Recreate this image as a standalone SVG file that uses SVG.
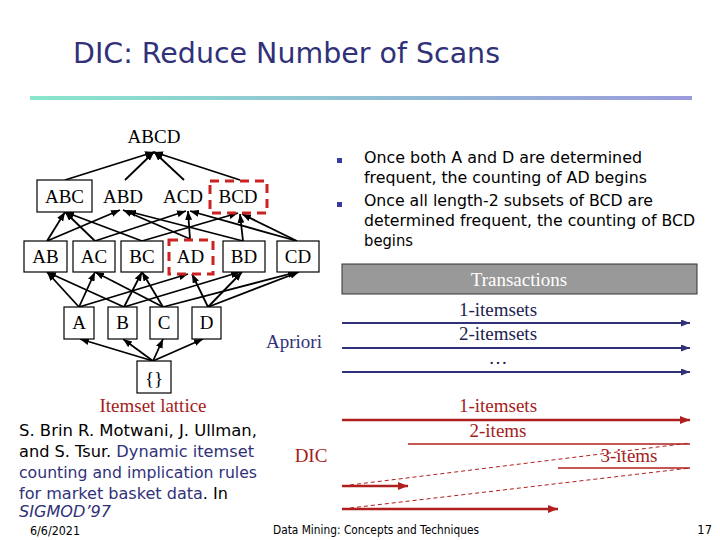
<svg xmlns="http://www.w3.org/2000/svg" width="720" height="540" viewBox="0 0 720 540">
<style>
.serif{font-family:"Liberation Serif","DejaVu Serif",serif;font-size:19px;fill:#000}
.sans{font-family:"DejaVu Sans","Liberation Sans",sans-serif}
.node{fill:#fff;stroke:#000;stroke-width:1.2}
.sel{fill:none;stroke:#cc2222;stroke-width:3;stroke-dasharray:9,6}
.edge{stroke:#000;stroke-width:1.8;fill:none;marker-end:url(#ab)}
.navy{fill:#31317a}
.dk{fill:#22224f}
.red{fill:#a51c1c}
.ap{stroke:#31317a;stroke-width:2;marker-end:url(#an)}
.dic{stroke:#b01e1e;stroke-width:2.5;marker-end:url(#ar)}
.thin{stroke:#b01e1e;stroke-width:1.4}
.dash{stroke:#b01e1e;stroke-width:1;stroke-dasharray:4,3;fill:none}
</style>
<defs>
<linearGradient id="g" x1="0" x2="1" y1="0" y2="0">
<stop offset="0" stop-color="#88e6cc"/>
<stop offset="1" stop-color="#9b9bdc"/>
</linearGradient>
<marker id="ab" markerUnits="userSpaceOnUse" markerWidth="9" markerHeight="7" refX="9" refY="3.5" orient="auto"><path d="M0,0 L9,3.5 L0,7 z" fill="#000"/></marker>
<marker id="an" markerUnits="userSpaceOnUse" markerWidth="9" markerHeight="7" refX="9" refY="3.5" orient="auto"><path d="M0,0 L9,3.5 L0,7 z" fill="#31317a"/></marker>
<marker id="ar" markerUnits="userSpaceOnUse" markerWidth="10" markerHeight="8" refX="10" refY="4" orient="auto"><path d="M0,0 L10,4 L0,8 z" fill="#b01e1e"/></marker>
</defs>
<rect width="720" height="540" fill="#fff"/>
<text x="73" y="63" class="sans navy" font-size="28" textLength="427" lengthAdjust="spacingAndGlyphs">DIC: Reduce Number of Scans</text>
<rect x="30" y="96" width="662" height="4" fill="url(#g)"/>

<g id="connectors">
<line class="edge" x1="65" y1="180" x2="154" y2="152"/>
<line class="edge" x1="125" y1="180" x2="154" y2="152"/>
<line class="edge" x1="184" y1="180" x2="154" y2="152"/>
<line class="edge" x1="240" y1="180" x2="154" y2="152"/>
<line class="edge" x1="47" y1="241" x2="65" y2="212"/>
<line class="edge" x1="47" y1="241" x2="120" y2="210"/>
<line class="edge" x1="95" y1="241" x2="65" y2="212"/>
<line class="edge" x1="95" y1="241" x2="186" y2="211"/>
<line class="edge" x1="142" y1="241" x2="65" y2="212"/>
<line class="edge" x1="142" y1="241" x2="238" y2="213"/>
<line class="edge" x1="190" y1="239" x2="123" y2="210"/>
<line class="edge" x1="190" y1="239" x2="188" y2="211"/>
<line class="edge" x1="243" y1="241" x2="127" y2="211"/>
<line class="edge" x1="243" y1="241" x2="240" y2="214"/>
<line class="edge" x1="297" y1="241" x2="190" y2="211"/>
<line class="edge" x1="297" y1="241" x2="242" y2="214"/>
<line class="edge" x1="79" y1="307" x2="47" y2="272"/>
<line class="edge" x1="79" y1="307" x2="95" y2="272"/>
<line class="edge" x1="79" y1="307" x2="188" y2="274"/>
<line class="edge" x1="124" y1="307" x2="47" y2="272"/>
<line class="edge" x1="124" y1="307" x2="142" y2="272"/>
<line class="edge" x1="124" y1="307" x2="240" y2="272"/>
<line class="edge" x1="163" y1="307" x2="95" y2="272"/>
<line class="edge" x1="163" y1="307" x2="142" y2="272"/>
<line class="edge" x1="163" y1="307" x2="297" y2="272"/>
<line class="edge" x1="208" y1="307" x2="192" y2="274"/>
<line class="edge" x1="208" y1="307" x2="242" y2="272"/>
<line class="edge" x1="208" y1="307" x2="299" y2="272"/>
<line class="edge" x1="153" y1="361" x2="80" y2="339"/>
<line class="edge" x1="153" y1="361" x2="123" y2="339"/>
<line class="edge" x1="153" y1="361" x2="163" y2="339"/>
<line class="edge" x1="153" y1="361" x2="203" y2="339"/>
</g>

<g id="ABCD"><text x="154" y="143" class="serif" text-anchor="middle">ABCD</text></g>
<g id="ABC"><rect class="node" x="37" y="180" width="55" height="32"/><text x="64.5" y="203" class="serif" text-anchor="middle">ABC</text></g>
<g id="ABD"><text x="123" y="203" class="serif" text-anchor="middle">ABD</text></g>
<g id="ACD"><text x="183" y="203" class="serif" text-anchor="middle">ACD</text></g>
<g id="BCD"><text x="238" y="203" class="serif" text-anchor="middle">BCD</text><rect class="sel" x="210" y="181" width="57" height="32"/></g>

<g id="AB"><rect class="node" x="24" y="241" width="43" height="31"/><text x="45.5" y="263" class="serif" text-anchor="middle">AB</text></g>
<g id="AC"><rect class="node" x="73" y="241" width="42" height="31"/><text x="94" y="263" class="serif" text-anchor="middle">AC</text></g>
<g id="BC"><rect class="node" x="121" y="241" width="42" height="31"/><text x="142" y="263" class="serif" text-anchor="middle">BC</text></g>
<g id="AD"><text x="190.5" y="263" class="serif" text-anchor="middle">AD</text><rect class="sel" x="169" y="240" width="44" height="34"/></g>
<g id="BD"><rect class="node" x="223" y="241" width="42" height="31"/><text x="244" y="263" class="serif" text-anchor="middle">BD</text></g>
<g id="CD"><rect class="node" x="277" y="241" width="42" height="31"/><text x="298" y="263" class="serif" text-anchor="middle">CD</text></g>

<g id="A"><rect class="node" x="64" y="307" width="30" height="32"/><text x="79" y="329" class="serif" text-anchor="middle">A</text></g>
<g id="B"><rect class="node" x="108" y="307" width="29" height="32"/><text x="122.5" y="329" class="serif" text-anchor="middle">B</text></g>
<g id="C"><rect class="node" x="150" y="307" width="28" height="32"/><text x="164" y="329" class="serif" text-anchor="middle">C</text></g>
<g id="D"><rect class="node" x="192" y="307" width="29" height="32"/><text x="206.5" y="329" class="serif" text-anchor="middle">D</text></g>
<g id="empty"><rect class="node" x="137" y="361" width="34" height="32"/><text x="154" y="385" class="serif" text-anchor="middle">{}</text></g>

<text x="153" y="412" class="serif red" text-anchor="middle" font-size="18">Itemset lattice</text>

<g id="bullets" class="sans" font-size="16">
<rect x="337" y="158" width="5" height="5" fill="#3a3aa0"/>
<rect x="337" y="202" width="5" height="5" fill="#3a3aa0"/>
<text x="364" y="163" textLength="278" lengthAdjust="spacingAndGlyphs">Once both A and D are determined</text>
<text x="364" y="183" textLength="283" lengthAdjust="spacingAndGlyphs">frequent, the counting of AD begins</text>
<text x="364" y="206" textLength="289" lengthAdjust="spacingAndGlyphs">Once all length-2 subsets of BCD are</text>
<text x="364" y="226" textLength="331" lengthAdjust="spacingAndGlyphs">determined frequent, the counting of BCD</text>
<text x="364" y="246" textLength="49" lengthAdjust="spacingAndGlyphs">begins</text>
</g>

<g id="transactions">
<rect x="342" y="264" width="355" height="30" fill="#999999" stroke="#333" stroke-width="1"/>
<text x="519" y="286" class="serif" style="fill:#fff" text-anchor="middle" font-size="18">Transactions</text>
</g>

<g id="apriori">
<text x="294" y="348" class="serif navy" text-anchor="middle">Apriori</text>
<text x="498" y="316" class="serif dk" text-anchor="middle">1-itemsets</text>
<line class="ap" x1="342" y1="323" x2="690" y2="323"/>
<text x="498" y="340" class="serif dk" text-anchor="middle">2-itemsets</text>
<line class="ap" x1="342" y1="348" x2="690" y2="348"/>
<text x="498" y="364" class="serif dk" text-anchor="middle">…</text>
<line class="ap" x1="342" y1="372" x2="690" y2="372"/>
</g>

<g id="dic">
<text x="311" y="462" class="serif red" text-anchor="middle">DIC</text>
<text x="498" y="412" class="serif red" text-anchor="middle">1-itemsets</text>
<line class="dic" x1="342" y1="420" x2="690" y2="420"/>
<text x="498" y="437" class="serif red" text-anchor="middle">2-items</text>
<line class="thin" x1="408" y1="444" x2="690" y2="444"/>
<line class="dash" x1="350" y1="485" x2="690" y2="443"/>
<text x="629" y="462" class="serif red" text-anchor="middle">3-items</text>
<line class="thin" x1="558" y1="468" x2="690" y2="468"/>
<line class="dash" x1="350" y1="508" x2="690" y2="468"/>
<line class="dic" x1="342" y1="486" x2="408" y2="486"/>
<line class="dic" x1="342" y1="509" x2="558" y2="509"/>
</g>

<g id="citation" class="sans" font-size="16">
<text x="19" y="436" textLength="238" lengthAdjust="spacingAndGlyphs">S. Brin R. Motwani, J. Ullman,</text>
<text x="19" y="457" textLength="235" lengthAdjust="spacingAndGlyphs">and S. Tsur. <tspan class="navy">Dynamic itemset</tspan></text>
<text x="19" y="478" class="navy" textLength="238" lengthAdjust="spacingAndGlyphs">counting and implication rules</text>
<text x="19" y="499" textLength="209" lengthAdjust="spacingAndGlyphs"><tspan class="navy">for market basket data</tspan>. In</text>
<text x="19" y="517" class="navy" font-style="italic" textLength="92" lengthAdjust="spacingAndGlyphs">SIGMOD’97</text>
</g>

<g id="footer" class="sans" font-size="11.5">
<text x="30" y="535" textLength="50" lengthAdjust="spacingAndGlyphs">6/6/2021</text>
<text x="273" y="534" textLength="206" lengthAdjust="spacingAndGlyphs">Data Mining: Concepts and Techniques</text>
<text x="712" y="534" text-anchor="end">17</text>
</g>
</svg>
